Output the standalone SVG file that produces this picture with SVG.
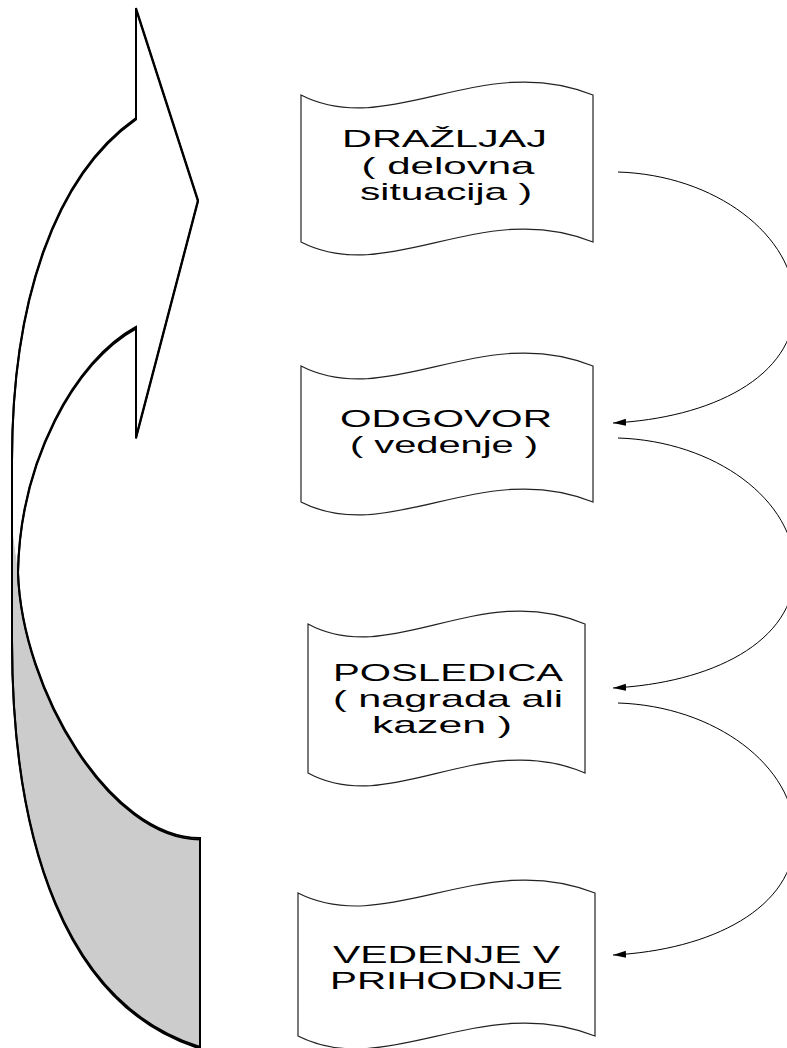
<svg xmlns="http://www.w3.org/2000/svg" width="787" height="1048" viewBox="0 0 787 1048">
<defs>
<style>
.node path{fill:#fff;stroke:#222;stroke-width:1.2}
.node text{font-family:"Liberation Sans",Arial,sans-serif;font-size:24px;fill:#000;text-anchor:middle}
.conn{fill:none;stroke:#000;stroke-width:1;marker-end:url(#ah)}
.outline{fill:none;stroke:#000;stroke-width:2;stroke-linejoin:miter}
</style>
<marker id="ah" markerUnits="userSpaceOnUse" markerWidth="14" markerHeight="8" refX="13" refY="3.5" orient="auto">
<path d="M13,3.5 L0,0 L0,7 Z" fill="#000"/>
</marker>
</defs>
<rect width="787" height="1048" fill="#fff"/>

<g id="curved-arrow">
<path d="M12,525 L18,572 C22,690 110,838 200,838 L200,1047 C65,1005 12,840 12,640 Z" fill="#cccccc"/>
<path d="M136,8 L136,118 C55,175 12,300 12,460 L12,525 L18,572 C20,460 75,360 136,327 L136,437 L198,200 Z" fill="#fff"/>
<path id="arrowline" class="outline" d="M136,118 L136,8 L198,200 L136,437 L136,327 C75,360 20,460 18,572 C22,690 110,838 200,838 L200,1047 C65,1005 12,840 12,640 L12,460 C12,300 55,175 136,118 Z"/>
<use href="#arrowline" transform="translate(0,1.5)"/>
</g>

<g id="node-drazljaj" class="node">
<path d="M301,95 C389,140 482,50 593,95 L593,242 C482,197 389,287 301,242 Z"/>
<text x="444.5" y="147" textLength="205" lengthAdjust="spacingAndGlyphs">DRAŽLJAJ</text>
<text x="448" y="174" textLength="173" lengthAdjust="spacingAndGlyphs">( delovna</text>
<text x="446" y="200" textLength="172" lengthAdjust="spacingAndGlyphs">situacija )</text>
</g>

<g id="node-odgovor" class="node">
<path d="M301,366 C389,411 482,321 593,366 L593,502 C482,457 389,547 301,502 Z"/>
<text x="446" y="427" textLength="212" lengthAdjust="spacingAndGlyphs">ODGOVOR</text>
<text x="444" y="453" textLength="188" lengthAdjust="spacingAndGlyphs">( vedenje )</text>
</g>

<g id="node-posledica" class="node">
<path d="M308,624 C391,669 480,579 585,624 L585,773 C480,728 391,818 308,773 Z"/>
<text x="448" y="680.5" textLength="230" lengthAdjust="spacingAndGlyphs">POSLEDICA</text>
<text x="448" y="707" textLength="230" lengthAdjust="spacingAndGlyphs">( nagrada ali</text>
<text x="442" y="733" textLength="140" lengthAdjust="spacingAndGlyphs">kazen )</text>
</g>

<g id="node-vedenje" class="node">
<path d="M298,893 C387,938 482,848 595,893 L595,1036 C482,991 387,1081 298,1036 Z"/>
<text x="446.5" y="963" textLength="227" lengthAdjust="spacingAndGlyphs">VEDENJE V</text>
<text x="446.5" y="988.5" textLength="233" lengthAdjust="spacingAndGlyphs">PRIHODNJE</text>
</g>

<g id="connectors">
<path class="conn" d="M618,172 C715,175 795,235 795,305 C795,378 710,418 613,423"/>
<path class="conn" d="M618,438 C715,441 795,500 795,570 C795,643 710,683 613,688"/>
<path class="conn" d="M618,703 C715,706 795,766 795,836 C795,909 710,950 613,955"/>
</g>
</svg>
